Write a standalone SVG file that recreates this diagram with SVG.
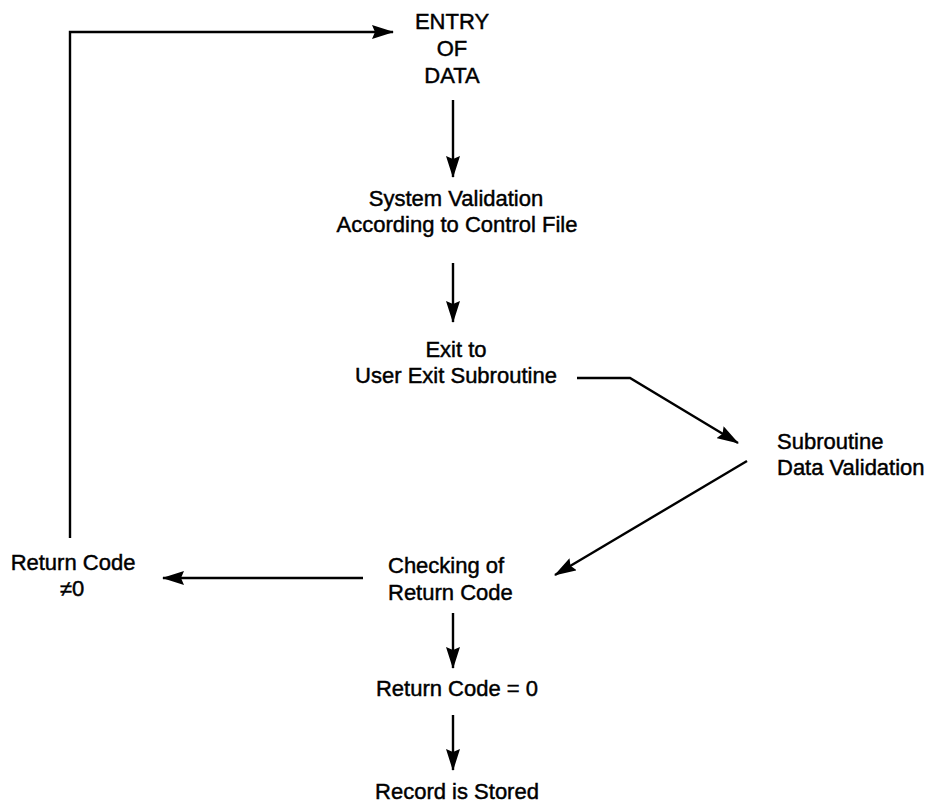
<svg xmlns="http://www.w3.org/2000/svg" width="930" height="805" viewBox="0 0 930 805">
<style>
  text { font-family: "Liberation Sans", Arial, sans-serif; font-size: 22px; fill: #000; stroke: #000; stroke-width: 0.45; text-anchor: middle; }
  text.l { text-anchor: start; }
  .ln { fill: none; stroke: #000; stroke-width: 2.4; }
</style>
<defs>
  <marker id="ah" viewBox="0 0 22 14" refX="21" refY="7" markerWidth="22" markerHeight="14" markerUnits="userSpaceOnUse" orient="auto">
    <path d="M0,0 L22,7 L0,14 L3,7 Z" fill="#000"/>
  </marker>
</defs>
<rect width="930" height="805" fill="#fff"/>
<g id="connectors">
  <path class="ln" d="M70,538 L70,32 L393,32" marker-end="url(#ah)"/>
  <path class="ln" d="M453,100 L453,177" marker-end="url(#ah)"/>
  <path class="ln" d="M453,263 L453,322" marker-end="url(#ah)"/>
  <path class="ln" d="M577,378 L630,378 L738,443" marker-end="url(#ah)"/>
  <path class="ln" d="M747,461 L555,575" marker-end="url(#ah)"/>
  <path class="ln" d="M363,578 L163,578" marker-end="url(#ah)"/>
  <path class="ln" d="M453,613 L453,668" marker-end="url(#ah)"/>
  <path class="ln" d="M453,715 L453,770" marker-end="url(#ah)"/>
</g>
<g id="entry"><text x="452" y="29">ENTRY</text><text x="452" y="56">OF</text><text x="452" y="83">DATA</text></g>
<g id="system-validation"><text x="456" y="206">System Validation</text><text x="457" y="232">According to Control File</text></g>
<g id="exit"><text x="456" y="357">Exit to</text><text x="456" y="383">User Exit Subroutine</text></g>
<g id="subroutine"><text class="l" x="777" y="449">Subroutine</text><text class="l" x="777" y="475">Data Validation</text></g>
<g id="checking"><text class="l" x="388" y="573">Checking of</text><text class="l" x="388" y="600">Return Code</text></g>
<g id="rc-nonzero"><text x="73" y="570">Return Code</text><text x="72" y="596">≠0</text></g>
<g id="rc-zero"><text x="457" y="696">Return Code = 0</text></g>
<g id="stored"><text x="457" y="799">Record is Stored</text></g>
</svg>
